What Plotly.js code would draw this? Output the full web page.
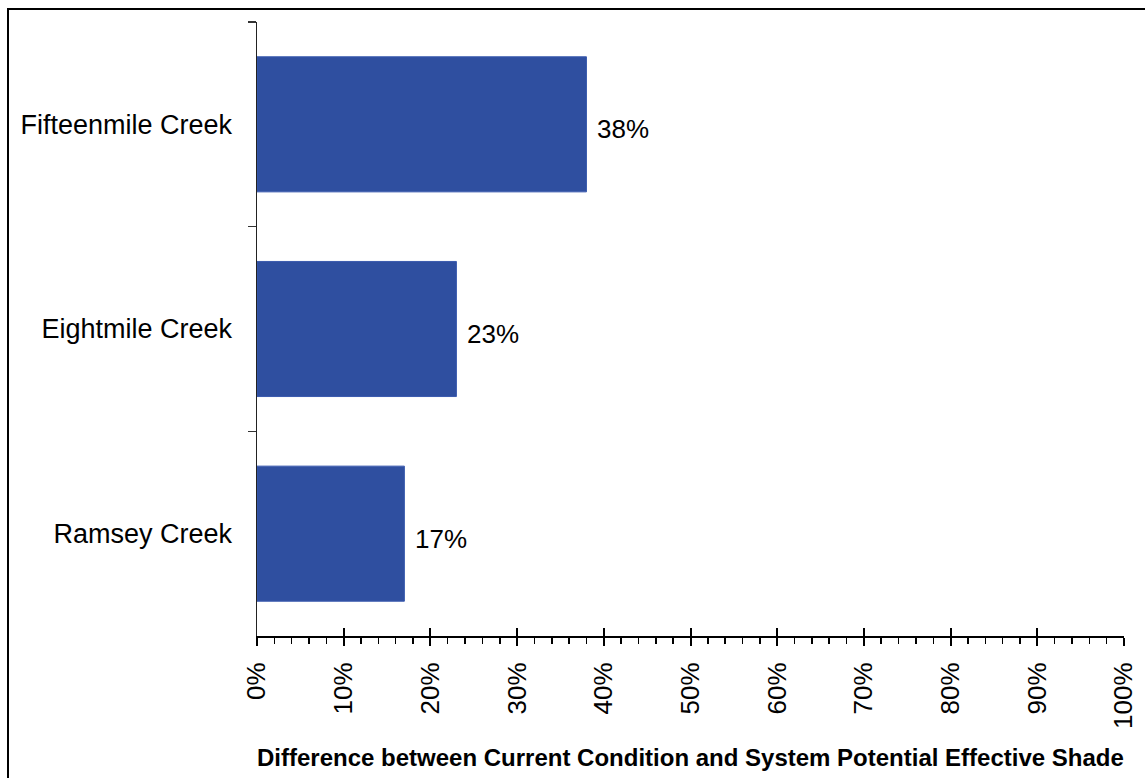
<!DOCTYPE html>
<html>
<head>
<meta charset="utf-8">
<script src="https://cdn.plot.ly/plotly-3.0.1.min.js"></script>
<style>
  html, body { margin: 0; padding: 0; background: #fff; overflow: hidden; }
  #wrap { position: relative; width: 1145px; height: 778px; }
  #chart { position: absolute; left: 0; top: 0; width: 1145px; height: 778px; }
  #frame {
    position: absolute; left: 7px; top: 8px; width: 1300px; height: 900px;
    border: 2px solid #000; pointer-events: none; box-sizing: border-box;
  }
</style>
</head>
<body>
<div id="wrap">
  <div id="chart"></div>
  <div id="frame"></div>
</div>
<script>
// Streams, listed top to bottom
const creeks = ['Fifteenmile Creek', 'Eightmile Creek', 'Ramsey Creek'];
// Difference between current condition and system potential effective shade (fraction)
const shadeGap = [0.38, 0.23, 0.17];
// Axis ticks
const xTickVals = [0, 0.1, 0.2, 0.3, 0.4, 0.5, 0.6, 0.7, 0.8, 0.9, 1.0];
const xTickText = ['0%', '10%', '20%', '30%', '40%', '50%', '60%', '70%', '80%', '90%', '100%'];
const xTitle = 'Difference between Current Condition and System Potential Effective Shade';

const FONT = 'Liberation Sans, Arial, sans-serif';

const bars = {
  type: 'bar',
  orientation: 'h',
  x: shadeGap,
  y: creeks,
  marker: { color: '#2F4FA0', line: { color: '#3A5AAE', width: 1 } },
  hoverinfo: 'skip'
};

// Value labels beside each bar
const valueLabels = shadeGap.map((v, i) => ({
  x: v, y: creeks[i], xref: 'x', yref: 'y',
  text: Math.round(v * 100) + '%',
  showarrow: false, xanchor: 'left', yanchor: 'middle',
  xshift: 9, yshift: -5,
  font: { family: FONT, size: 26, color: '#000' }
}));

const layout = {
  width: 1145, height: 778,
  margin: { l: 257, r: 21, t: 22, b: 142 },
  paper_bgcolor: '#fff', plot_bgcolor: '#fff',
  showlegend: false,
  bargap: 0.34,
  font: { family: FONT, color: '#000' },
  xaxis: {
    range: [0, 1], fixedrange: true,
    tickmode: 'array', tickvals: xTickVals, ticktext: xTickText,
    tickangle: -90,
    ticks: 'outside', ticklen: 8, tickwidth: 2, tickcolor: '#000',
    minor: { dtick: 0.02, ticks: 'outside', ticklen: 6, tickwidth: 1.5, tickcolor: '#000' },
    showline: true, linecolor: '#000', linewidth: 2,
    showgrid: false, zeroline: false,
    tickfont: { family: FONT, size: 26, color: '#000' },
    ticklabelstandoff: 6
  },
  // upper half of the crossing major ticks
  xaxis2: {
    overlaying: 'x', anchor: 'y', side: 'bottom', matches: 'x',
    range: [0, 1], fixedrange: true,
    tickmode: 'array', tickvals: xTickVals,
    ticks: 'inside', ticklen: 8, tickwidth: 2, tickcolor: '#000',
    showticklabels: false, showline: false, showgrid: false, zeroline: false
  },
  yaxis: {
    type: 'category', autorange: 'reversed', fixedrange: true,
    tickson: 'boundaries',
    ticks: 'outside', ticklen: 8, tickwidth: 1.5, tickcolor: '#333',
    showline: true, linecolor: '#222', linewidth: 1.5,
    showgrid: false, zeroline: false,
    tickfont: { family: FONT, size: 27, color: '#000' },
    ticklabelstandoff: 18
  },
  annotations: valueLabels.concat([{
    xref: 'paper', yref: 'paper', x: 0.5, y: 0, yshift: -121,
    xanchor: 'center', yanchor: 'middle', showarrow: false,
    text: '<b>' + xTitle + '</b>',
    font: { family: FONT, size: 24, color: '#000' }
  }])
};

const dummy = { type: 'scatter', x: [0], y: [creeks[0]], xaxis: 'x2', mode: 'none', hoverinfo: 'skip' };

Plotly.newPlot('chart', [bars, dummy], layout, { staticPlot: true, displayModeBar: false });
</script>
</body>
</html>
